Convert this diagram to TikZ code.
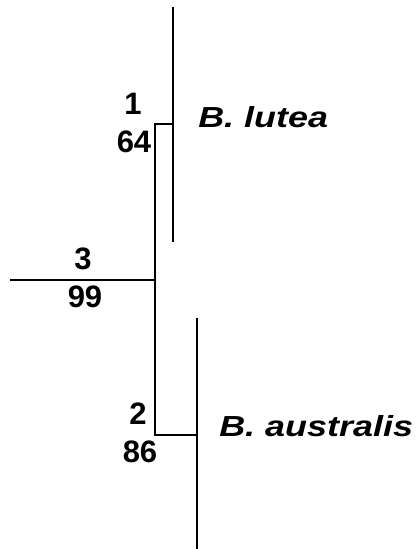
\documentclass[tikz,border=0pt]{standalone}
\usepackage{fontspec}
\setmainfont{Liberation Sans}
\newfontfamily\taxfont[FakeStretch=1.24]{Liberation Sans}
\usetikzlibrary{positioning}

\begin{document}
\begin{tikzpicture}[x=1pt,y=1pt,line width=2.5pt,
  support/.style={inner sep=0pt,anchor=base,font=\fontsize{31}{31}\selectfont\bfseries},
  taxon/.style={inner sep=0pt,anchor=base west,font=\fontsize{29}{29}\selectfont\taxfont\bfseries\itshape}]
\useasboundingbox (0,0) rectangle (417,549);
% tree skeleton
\coordinate (root) at (10,269);
\coordinate (mid) at (155,269);
\coordinate (upfork) at (155,425);
\coordinate (lowfork) at (155,114);
\coordinate (lutea) at (173,425);
\coordinate (lutea top) at (173,542);
\coordinate (lutea bot) at (173,307);
\coordinate (austr) at (197,114);
\coordinate (austr top) at (197,231);
\coordinate (austr bot) at (197,0);
\draw (root)--(mid);
\draw[line cap=rect] (upfork)--(lowfork);
\draw (upfork)--(lutea);
\draw (lowfork)--(austr);
\draw[line width=2pt] (lutea top)--(lutea bot);
\draw[line width=2pt] (austr top)--(austr bot);
% node numbers and bootstrap values
\node[support] (n1) at (133,434) {1};
\node[support] (b1) at (134,396) {64};
\node[support] (n3) at (83,279) {3};
\node[support] (b3) at (85,241) {99};
\node[support] (n2) at (138,124) {2};
\node[support] (b2) at (140,86) {86};
% taxa
\node[taxon] (tl) at (197,421) {B. lutea};
\node[taxon] (ta) at (218,112) {B. australis};
\end{tikzpicture}
\end{document}
